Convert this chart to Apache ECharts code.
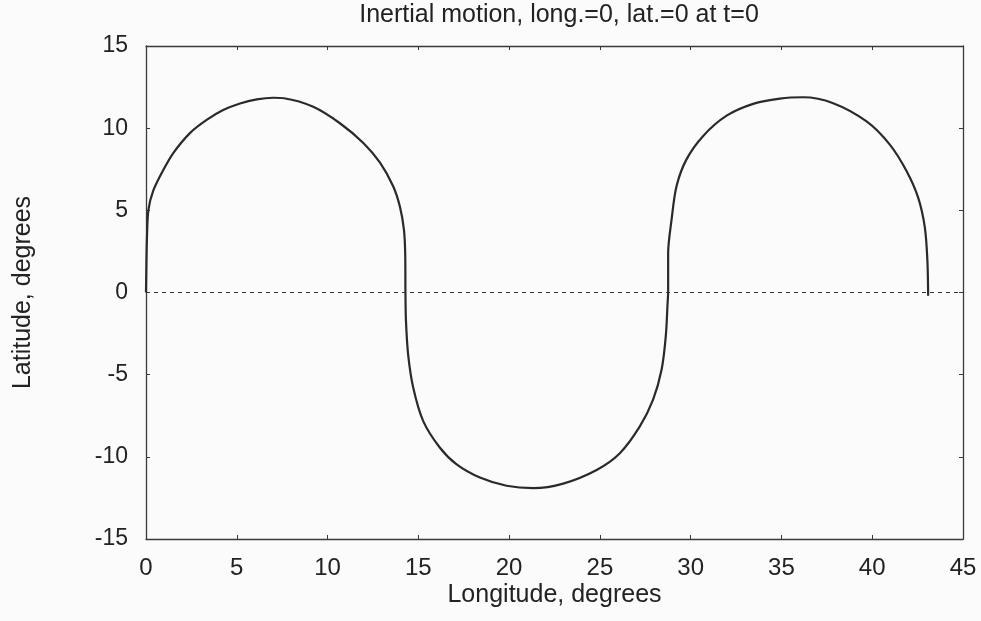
<!DOCTYPE html>
<html>
<head>
<meta charset="utf-8">
<script src="https://cdn.jsdelivr.net/npm/echarts@6/dist/echarts.min.js"></script>
<style>
    html,body{margin:0;padding:0;background:#fbfbfb;}
    #chart{width:981px;height:621px;}
</style>
</head>
<body>
<div id="chart"></div>
<script>
// 读图得到的轨迹点 (经度, 纬度)
var lonData = [0, 0.02, 0.05, 0.13, 0.40, 0.95, 1.51, 2.42, 3.34, 4.25, 5.18, 6.1, 7.0, 7.6, 9.21, 10.68, 11.97, 12.89, 13.62, 13.99, 14.21, 14.28, 14.29,
    14.32, 14.44, 14.72, 15.27, 16.19, 17.11, 18.39, 19.86, 21.33, 22.98, 24.82, 26.1, 27.2, 27.93, 28.4, 28.63, 28.73, 28.76,
    28.76, 28.95, 29.22, 29.77, 30.69, 31.98, 33.44, 34.91, 36.2, 37.85, 39.69, 40.97, 41.89, 42.53, 42.9, 43.04, 43.08];
var latData = [0, 1.6, 3.2, 5.0, 6.2, 7.45, 8.5, 9.7, 10.5, 11.1, 11.5, 11.75, 11.85, 11.82, 11.3, 10.3, 9.1, 7.9, 6.45, 5.2, 3.8, 2.2, 0,
    -1.76, -3.79, -5.8, -7.83, -9.45, -10.46, -11.26, -11.76, -11.91, -11.63, -10.8, -9.78, -8.15, -6.52, -4.69, -2.66, -0.63, 0,
    2.41, 4.45, 6.47, 8.1, 9.53, 10.76, 11.48, 11.8, 11.88, 11.52, 10.41, 9.0, 7.39, 5.77, 3.95, 1.92, -0.2];
var xTicks = [0, 5, 10, 15, 20, 25, 30, 35, 40, 45];
var yTicks = [-15, -10, -5, 0, 5, 10, 15];

var pts = [];
for (var i = 0; i < lonData.length; i++) {
    pts.push([lonData[i], latData[i]]);
}

var chart = echarts.init(document.getElementById('chart'));
var font = 'Liberation Sans, Arial, sans-serif';
var axisCol = '#3a3a3a';

function baseX(show, pos) {
    return {
        type: 'value', position: pos,
        min: xTicks[0], max: xTicks[xTicks.length - 1], interval: 5,
        axisLine: {show: true, onZero: false, lineStyle: {color: axisCol, width: 1.3}},
        axisTick: {show: true, inside: true, length: 4, lineStyle: {color: axisCol}},
        axisLabel: {show: show, color: '#222', fontSize: 24, fontFamily: font, margin: 17},
        splitLine: {show: false}
    };
}
function baseY(show, pos) {
    return {
        type: 'value', position: pos,
        min: yTicks[0], max: yTicks[yTicks.length - 1], interval: 5,
        axisLine: {show: true, onZero: false, lineStyle: {color: axisCol, width: 1.3}},
        axisTick: {show: true, inside: true, length: 4, lineStyle: {color: axisCol}},
        axisLabel: {show: show, color: '#222', fontSize: 23, fontFamily: font, margin: 18},
        splitLine: {show: false}
    };
}

var xMain = baseX(true, 'bottom');
xMain.name = 'Longitude, degrees';
xMain.nameLocation = 'middle';
xMain.nameGap = 44;
xMain.nameMoveOverlap = false;
xMain.nameTextStyle = {color: '#222', fontSize: 25, fontFamily: font};

var yMain = baseY(true, 'left');
yMain.name = 'Latitude, degrees';
yMain.nameLocation = 'middle';
yMain.nameRotate = 90;
yMain.nameGap = 110;
yMain.nameMoveOverlap = false;
yMain.nameTextStyle = {color: '#222', fontSize: 25, fontFamily: font};

var option = {
    backgroundColor: '#fbfbfb',
    animation: false,
    title: {
        text: 'Inertial motion, long.=0, lat.=0 at t=0',
        left: 554, top: -2, textAlign: 'center',
        textStyle: {color: '#222', fontSize: 25, fontWeight: 'normal', fontFamily: font}
    },
    grid: {left: 146, top: 46, right: 18, bottom: 82, containLabel: false},
    xAxis: [xMain, baseX(false, 'top')],
    yAxis: [yMain, baseY(false, 'right')],
    series: [{
        type: 'line',
        data: pts,
        showSymbol: false,
        smooth: 0.3,
        lineStyle: {color: '#2a2a2a', width: 2.2},
        markLine: {
            silent: true,
            symbol: ['none', 'none'],
            label: {show: false},
            lineStyle: {color: '#333', width: 1, type: [4, 4]},
            data: [{yAxis: 0}]
        }
    }]
};
chart.setOption(option);
</script>
</body>
</html>
